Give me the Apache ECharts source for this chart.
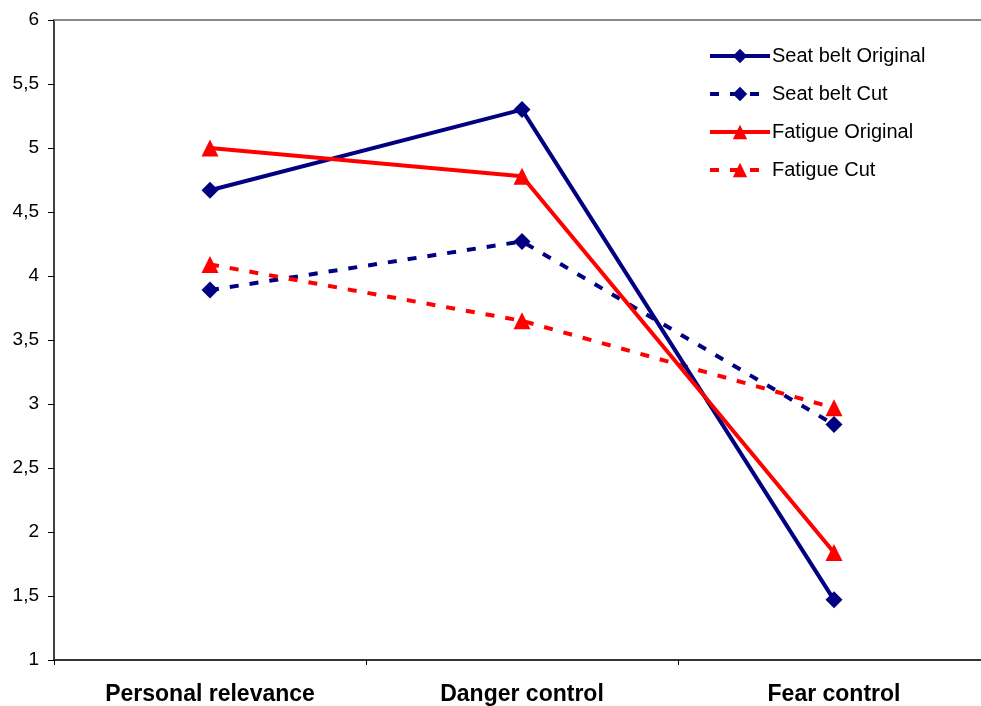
<!DOCTYPE html>
<html><head><meta charset="utf-8">
<script src="https://cdn.jsdelivr.net/npm/echarts@6/dist/echarts.min.js"></script>
<style>html,body{margin:0;padding:0;background:#fff;overflow:hidden}#c{width:990px;height:706px}</style>
</head><body><div id="c"></div>
<script>
const categories = ['Personal relevance', 'Danger control', 'Fear control'];
const seatBeltOriginal = [4.67, 5.30, 1.47];
const seatBeltCut = [3.89, 4.27, 2.84];
const fatigueOriginal = [5.00, 4.78, 1.84];
const fatigueCut = [4.09, 3.65, 2.97];
const yTicks = [1, 1.5, 2, 2.5, 3, 3.5, 4, 4.5, 5, 5.5, 6];

const NAVY = '#000080', RED = '#FF0000';
function mk(name, data, color, symbol, dashed) {
  return {
    name, type: 'line', data,
    symbol, symbolSize: 17,
    showSymbol: true, clip: false,
    lineStyle: { color, width: 4, type: dashed ? [9, 11] : 'solid' },
    itemStyle: { color },
    emphasis: { disabled: true },
    animation: false, z: dashed ? 2 : 3
  };
}
const chart = echarts.init(document.getElementById('c'));
chart.setOption({
  animation: false,
  grid: { left: 54, right: 0, top: 20, bottom: 44, containLabel: false },
  legend: {
    left: 703, top: 41, orient: 'vertical', itemGap: 18,
    itemWidth: 60, itemHeight: 18,
    lineStyle: { width: 4 },
    textStyle: { fontFamily: 'Liberation Sans, Arial', fontSize: 20, color: '#000', padding: [0,0,0,-3] },
    data: ['Seat belt Original', 'Seat belt Cut', 'Fatigue Original', 'Fatigue Cut']
  },
  xAxis: [{
    type: 'category', data: categories, boundaryGap: true,
    axisLine: { lineStyle: { color: '#333', width: 2 } },
    axisTick: { show: true, length: 5, lineStyle: { color: '#000' } },
    axisLabel: { margin: 23, fontFamily: 'Liberation Sans, Arial', fontWeight: 'bold', fontSize: 23, color: '#000' },
    splitLine: { show: false }
  }, {
    type: 'category', data: categories, position: 'top',
    axisLine: { show: true, lineStyle: { color: '#888', width: 2 } },
    axisTick: { show: false }, axisLabel: { show: false }
  }],
  yAxis: {
    type: 'value', min: 1, max: 6, interval: 0.5,
    axisLine: { show: true, lineStyle: { color: '#000', width: 1.5 } },
    axisTick: { show: true, length: 6, lineStyle: { color: '#000' } },
    splitLine: { show: false },
    axisLabel: {
      margin: 15, fontFamily: 'Liberation Sans, Arial', fontSize: 19, color: '#000',
      formatter: v => { const t = yTicks.find(x => Math.abs(x - v) < 1e-9); return String(t !== undefined ? t : v).replace('.', ','); }
    }
  },
  series: [
    mk('Seat belt Original', seatBeltOriginal, NAVY, 'diamond', false),
    mk('Seat belt Cut', seatBeltCut, NAVY, 'diamond', true),
    mk('Fatigue Original', fatigueOriginal, RED, 'triangle', false),
    mk('Fatigue Cut', fatigueCut, RED, 'triangle', true)
  ]
});
</script></body></html>
